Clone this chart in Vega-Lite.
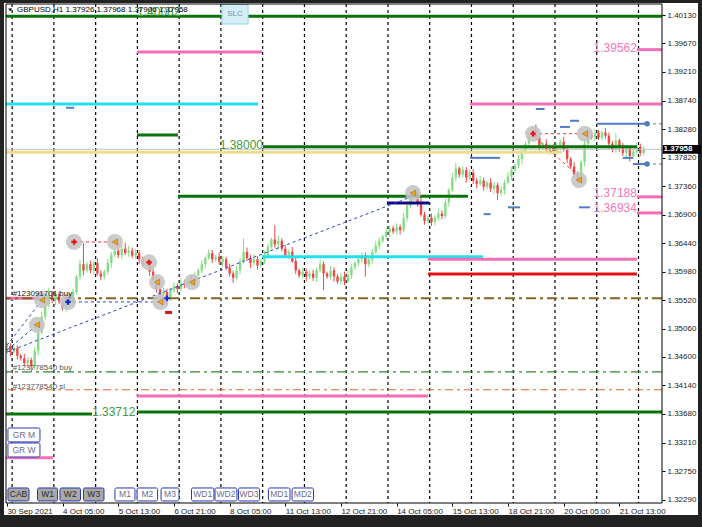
{
"$schema": "https://vega.github.io/schema/vega-lite/v6.json",
"width": 656, "height": 499,
"autosize": {"type": "none"},
"padding": {"left": 6, "top": 4, "right": 40, "bottom": 24},
"background": "#222222",
"config": {"view": {"stroke": null}, "text": {"font": "Liberation Sans"}, "scale": {"continuousPadding": 0}, "axis": {"grid": false, "labelOverlap": false, "labelBound": false, "labelFlush": false}},
"resolve": {"scale": {"color": "independent", "strokeWidth": "independent", "strokeDash": "independent"}},
"datasets": {
"grid": [{"t":3},{"t":27},{"t":51},{"t":75},{"t":99},{"t":123},{"t":147},{"t":171},{"t":195},{"t":219},{"t":243},{"t":267},{"t":291},{"t":315},{"t":339},{"t":363}],
"candles": [
{"t":0,"o":1.3470,"h":1.3484,"l":1.3465,"c":1.3478},
{"t":2,"o":1.3478,"h":1.3482,"l":1.3461,"c":1.3468},
{"t":4,"o":1.3468,"h":1.3482,"l":1.3465,"c":1.3474},
{"t":6,"o":1.3474,"h":1.3479,"l":1.3456,"c":1.3462},
{"t":8,"o":1.3462,"h":1.3465,"l":1.3454,"c":1.3458},
{"t":10,"o":1.3458,"h":1.3465,"l":1.3445,"c":1.3450},
{"t":12,"o":1.3450,"h":1.3460,"l":1.3442,"c":1.3455},
{"t":14,"o":1.3455,"h":1.3459,"l":1.3437,"c":1.3445},
{"t":16,"o":1.3445,"h":1.3476,"l":1.3440,"c":1.3470},
{"t":18,"o":1.3470,"h":1.3504,"l":1.3463,"c":1.3500},
{"t":20,"o":1.3500,"h":1.3533,"l":1.3497,"c":1.3525},
{"t":22,"o":1.3525,"h":1.3550,"l":1.3519,"c":1.3545},
{"t":24,"o":1.3545,"h":1.3572,"l":1.3541,"c":1.3560},
{"t":26,"o":1.3560,"h":1.3567,"l":1.3547,"c":1.3552},
{"t":28,"o":1.3552,"h":1.3567,"l":1.3544,"c":1.3562},
{"t":30,"o":1.3562,"h":1.3566,"l":1.3546,"c":1.3550},
{"t":32,"o":1.3550,"h":1.3556,"l":1.3535,"c":1.3540},
{"t":34,"o":1.3540,"h":1.3559,"l":1.3533,"c":1.3555},
{"t":36,"o":1.3555,"h":1.3563,"l":1.3542,"c":1.3545},
{"t":38,"o":1.3545,"h":1.3570,"l":1.3539,"c":1.3565},
{"t":40,"o":1.3565,"h":1.3593,"l":1.3561,"c":1.3590},
{"t":42,"o":1.3590,"h":1.3617,"l":1.3585,"c":1.3610},
{"t":44,"o":1.3610,"h":1.3644,"l":1.3592,"c":1.3600},
{"t":46,"o":1.3600,"h":1.3614,"l":1.3596,"c":1.3610},
{"t":48,"o":1.3610,"h":1.3616,"l":1.3595,"c":1.3600},
{"t":50,"o":1.3600,"h":1.3616,"l":1.3593,"c":1.3612},
{"t":52,"o":1.3612,"h":1.3620,"l":1.3592,"c":1.3595},
{"t":54,"o":1.3595,"h":1.3600,"l":1.3584,"c":1.3590},
{"t":56,"o":1.3590,"h":1.3601,"l":1.3586,"c":1.3598},
{"t":58,"o":1.3598,"h":1.3619,"l":1.3593,"c":1.3612},
{"t":60,"o":1.3612,"h":1.3630,"l":1.3604,"c":1.3625},
{"t":62,"o":1.3625,"h":1.3636,"l":1.3621,"c":1.3632},
{"t":64,"o":1.3632,"h":1.3644,"l":1.3620,"c":1.3625},
{"t":66,"o":1.3625,"h":1.3641,"l":1.3618,"c":1.3635},
{"t":68,"o":1.3635,"h":1.3645,"l":1.3625,"c":1.3628},
{"t":70,"o":1.3628,"h":1.3640,"l":1.3622,"c":1.3632},
{"t":72,"o":1.3632,"h":1.3637,"l":1.3620,"c":1.3624},
{"t":74,"o":1.3624,"h":1.3635,"l":1.3619,"c":1.3628},
{"t":76,"o":1.3628,"h":1.3633,"l":1.3610,"c":1.3618},
{"t":78,"o":1.3618,"h":1.3622,"l":1.3606,"c":1.3610},
{"t":80,"o":1.3610,"h":1.3618,"l":1.3605,"c":1.3612},
{"t":82,"o":1.3612,"h":1.3616,"l":1.3591,"c":1.3598},
{"t":84,"o":1.3598,"h":1.3606,"l":1.3582,"c":1.3585},
{"t":86,"o":1.3585,"h":1.3590,"l":1.3564,"c":1.3570},
{"t":88,"o":1.3570,"h":1.3573,"l":1.3552,"c":1.3560},
{"t":90,"o":1.3560,"h":1.3572,"l":1.3555,"c":1.3565},
{"t":92,"o":1.3565,"h":1.3570,"l":1.3545,"c":1.3555},
{"t":94,"o":1.3555,"h":1.3572,"l":1.3551,"c":1.3568},
{"t":96,"o":1.3568,"h":1.3581,"l":1.3563,"c":1.3575},
{"t":98,"o":1.3575,"h":1.3579,"l":1.3563,"c":1.3570},
{"t":100,"o":1.3570,"h":1.3588,"l":1.3567,"c":1.3580},
{"t":102,"o":1.3580,"h":1.3585,"l":1.3571,"c":1.3577},
{"t":104,"o":1.3577,"h":1.3588,"l":1.3573,"c":1.3585},
{"t":106,"o":1.3585,"h":1.3592,"l":1.3575,"c":1.3580},
{"t":108,"o":1.3580,"h":1.3597,"l":1.3572,"c":1.3592},
{"t":110,"o":1.3592,"h":1.3604,"l":1.3588,"c":1.3600},
{"t":112,"o":1.3600,"h":1.3616,"l":1.3595,"c":1.3610},
{"t":114,"o":1.3610,"h":1.3624,"l":1.3603,"c":1.3620},
{"t":116,"o":1.3620,"h":1.3634,"l":1.3617,"c":1.3628},
{"t":118,"o":1.3628,"h":1.3633,"l":1.3612,"c":1.3618},
{"t":120,"o":1.3618,"h":1.3625,"l":1.3614,"c":1.3622},
{"t":122,"o":1.3622,"h":1.3629,"l":1.3609,"c":1.3614},
{"t":124,"o":1.3614,"h":1.3623,"l":1.3606,"c":1.3618},
{"t":126,"o":1.3618,"h":1.3622,"l":1.3601,"c":1.3605},
{"t":128,"o":1.3605,"h":1.3611,"l":1.3590,"c":1.3595},
{"t":130,"o":1.3595,"h":1.3599,"l":1.3580,"c":1.3588},
{"t":132,"o":1.3588,"h":1.3608,"l":1.3585,"c":1.3600},
{"t":134,"o":1.3600,"h":1.3620,"l":1.3594,"c":1.3615},
{"t":136,"o":1.3615,"h":1.3652,"l":1.3611,"c":1.3630},
{"t":138,"o":1.3630,"h":1.3637,"l":1.3615,"c":1.3620},
{"t":140,"o":1.3620,"h":1.3625,"l":1.3604,"c":1.3612},
{"t":142,"o":1.3612,"h":1.3626,"l":1.3608,"c":1.3618},
{"t":144,"o":1.3618,"h":1.3623,"l":1.3601,"c":1.3608},
{"t":146,"o":1.3608,"h":1.3619,"l":1.3605,"c":1.3615},
{"t":148,"o":1.3615,"h":1.3632,"l":1.3610,"c":1.3625},
{"t":150,"o":1.3625,"h":1.3643,"l":1.3620,"c":1.3638},
{"t":152,"o":1.3638,"h":1.3653,"l":1.3634,"c":1.3650},
{"t":154,"o":1.3650,"h":1.3673,"l":1.3637,"c":1.3642},
{"t":156,"o":1.3642,"h":1.3656,"l":1.3634,"c":1.3648},
{"t":158,"o":1.3648,"h":1.3652,"l":1.3631,"c":1.3635},
{"t":160,"o":1.3635,"h":1.3641,"l":1.3620,"c":1.3625},
{"t":162,"o":1.3625,"h":1.3634,"l":1.3618,"c":1.3630},
{"t":164,"o":1.3630,"h":1.3638,"l":1.3612,"c":1.3615},
{"t":166,"o":1.3615,"h":1.3620,"l":1.3594,"c":1.3600},
{"t":168,"o":1.3600,"h":1.3603,"l":1.3588,"c":1.3592},
{"t":170,"o":1.3592,"h":1.3605,"l":1.3587,"c":1.3598},
{"t":172,"o":1.3598,"h":1.3603,"l":1.3582,"c":1.3590},
{"t":174,"o":1.3590,"h":1.3599,"l":1.3586,"c":1.3595},
{"t":176,"o":1.3595,"h":1.3601,"l":1.3583,"c":1.3588},
{"t":178,"o":1.3588,"h":1.3604,"l":1.3581,"c":1.3600},
{"t":180,"o":1.3600,"h":1.3618,"l":1.3597,"c":1.3610},
{"t":182,"o":1.3610,"h":1.3615,"l":1.3568,"c":1.3595},
{"t":184,"o":1.3595,"h":1.3598,"l":1.3586,"c":1.3590},
{"t":186,"o":1.3590,"h":1.3607,"l":1.3585,"c":1.3600},
{"t":188,"o":1.3600,"h":1.3605,"l":1.3582,"c":1.3590},
{"t":190,"o":1.3590,"h":1.3594,"l":1.3578,"c":1.3582},
{"t":192,"o":1.3582,"h":1.3596,"l":1.3577,"c":1.3590},
{"t":194,"o":1.3590,"h":1.3598,"l":1.3576,"c":1.3583},
{"t":196,"o":1.3583,"h":1.3600,"l":1.3580,"c":1.3592},
{"t":198,"o":1.3592,"h":1.3610,"l":1.3586,"c":1.3605},
{"t":200,"o":1.3605,"h":1.3615,"l":1.3601,"c":1.3612},
{"t":202,"o":1.3612,"h":1.3625,"l":1.3607,"c":1.3618},
{"t":204,"o":1.3618,"h":1.3630,"l":1.3613,"c":1.3625},
{"t":206,"o":1.3625,"h":1.3629,"l":1.3590,"c":1.3610},
{"t":208,"o":1.3610,"h":1.3624,"l":1.3605,"c":1.3618},
{"t":210,"o":1.3618,"h":1.3634,"l":1.3611,"c":1.3630},
{"t":212,"o":1.3630,"h":1.3648,"l":1.3627,"c":1.3640},
{"t":214,"o":1.3640,"h":1.3653,"l":1.3634,"c":1.3648},
{"t":216,"o":1.3648,"h":1.3658,"l":1.3644,"c":1.3655},
{"t":218,"o":1.3655,"h":1.3669,"l":1.3650,"c":1.3662},
{"t":220,"o":1.3662,"h":1.3673,"l":1.3654,"c":1.3668},
{"t":222,"o":1.3668,"h":1.3672,"l":1.3659,"c":1.3663},
{"t":224,"o":1.3663,"h":1.3676,"l":1.3658,"c":1.3670},
{"t":226,"o":1.3670,"h":1.3674,"l":1.3658,"c":1.3665},
{"t":228,"o":1.3665,"h":1.3693,"l":1.3662,"c":1.3685},
{"t":230,"o":1.3685,"h":1.3710,"l":1.3679,"c":1.3705},
{"t":232,"o":1.3705,"h":1.3723,"l":1.3701,"c":1.3720},
{"t":234,"o":1.3720,"h":1.3737,"l":1.3715,"c":1.3728},
{"t":236,"o":1.3728,"h":1.3732,"l":1.3703,"c":1.3710},
{"t":238,"o":1.3710,"h":1.3718,"l":1.3687,"c":1.3690},
{"t":240,"o":1.3690,"h":1.3695,"l":1.3674,"c":1.3680},
{"t":242,"o":1.3680,"h":1.3688,"l":1.3676,"c":1.3685},
{"t":244,"o":1.3685,"h":1.3692,"l":1.3672,"c":1.3678},
{"t":246,"o":1.3678,"h":1.3690,"l":1.3673,"c":1.3685},
{"t":248,"o":1.3685,"h":1.3700,"l":1.3681,"c":1.3692},
{"t":250,"o":1.3692,"h":1.3697,"l":1.3683,"c":1.3688},
{"t":252,"o":1.3688,"h":1.3716,"l":1.3684,"c":1.3710},
{"t":254,"o":1.3710,"h":1.3734,"l":1.3703,"c":1.3730},
{"t":256,"o":1.3730,"h":1.3758,"l":1.3727,"c":1.3750},
{"t":258,"o":1.3750,"h":1.3774,"l":1.3744,"c":1.3765},
{"t":260,"o":1.3765,"h":1.3768,"l":1.3750,"c":1.3755},
{"t":262,"o":1.3755,"h":1.3769,"l":1.3750,"c":1.3762},
{"t":264,"o":1.3762,"h":1.3767,"l":1.3742,"c":1.3750},
{"t":266,"o":1.3750,"h":1.3762,"l":1.3746,"c":1.3758},
{"t":268,"o":1.3758,"h":1.3764,"l":1.3740,"c":1.3745},
{"t":270,"o":1.3745,"h":1.3749,"l":1.3733,"c":1.3740},
{"t":272,"o":1.3740,"h":1.3753,"l":1.3737,"c":1.3745},
{"t":274,"o":1.3745,"h":1.3750,"l":1.3729,"c":1.3735},
{"t":276,"o":1.3735,"h":1.3745,"l":1.3731,"c":1.3742},
{"t":278,"o":1.3742,"h":1.3749,"l":1.3727,"c":1.3732},
{"t":280,"o":1.3732,"h":1.3743,"l":1.3724,"c":1.3738},
{"t":282,"o":1.3738,"h":1.3742,"l":1.3714,"c":1.3725},
{"t":284,"o":1.3725,"h":1.3736,"l":1.3720,"c":1.3730},
{"t":286,"o":1.3730,"h":1.3746,"l":1.3723,"c":1.3742},
{"t":288,"o":1.3742,"h":1.3760,"l":1.3739,"c":1.3752},
{"t":290,"o":1.3752,"h":1.3767,"l":1.3746,"c":1.3762},
{"t":292,"o":1.3762,"h":1.3773,"l":1.3758,"c":1.3770},
{"t":294,"o":1.3770,"h":1.3787,"l":1.3765,"c":1.3780},
{"t":296,"o":1.3780,"h":1.3797,"l":1.3772,"c":1.3792},
{"t":298,"o":1.3792,"h":1.3809,"l":1.3788,"c":1.3805},
{"t":300,"o":1.3805,"h":1.3824,"l":1.3800,"c":1.3818},
{"t":302,"o":1.3818,"h":1.3833,"l":1.3811,"c":1.3828},
{"t":304,"o":1.3828,"h":1.3836,"l":1.3812,"c":1.3815},
{"t":306,"o":1.3815,"h":1.3820,"l":1.3794,"c":1.3800},
{"t":308,"o":1.3800,"h":1.3808,"l":1.3796,"c":1.3805},
{"t":310,"o":1.3805,"h":1.3812,"l":1.3790,"c":1.3795},
{"t":312,"o":1.3795,"h":1.3805,"l":1.3787,"c":1.3800},
{"t":314,"o":1.3800,"h":1.3804,"l":1.3788,"c":1.3792},
{"t":316,"o":1.3792,"h":1.3806,"l":1.3787,"c":1.3800},
{"t":318,"o":1.3800,"h":1.3812,"l":1.3793,"c":1.3808},
{"t":320,"o":1.3808,"h":1.3816,"l":1.3792,"c":1.3795},
{"t":322,"o":1.3795,"h":1.3800,"l":1.3774,"c":1.3780},
{"t":324,"o":1.3780,"h":1.3783,"l":1.3764,"c":1.3768},
{"t":326,"o":1.3768,"h":1.3775,"l":1.3750,"c":1.3755},
{"t":328,"o":1.3755,"h":1.3760,"l":1.3740,"c":1.3745},
{"t":330,"o":1.3745,"h":1.3779,"l":1.3742,"c":1.3775},
{"t":332,"o":1.3775,"h":1.3813,"l":1.3769,"c":1.3805},
{"t":334,"o":1.3805,"h":1.3832,"l":1.3800,"c":1.3820},
{"t":336,"o":1.3820,"h":1.3826,"l":1.3812,"c":1.3815},
{"t":338,"o":1.3815,"h":1.3829,"l":1.3809,"c":1.3822},
{"t":340,"o":1.3822,"h":1.3827,"l":1.3811,"c":1.3815},
{"t":342,"o":1.3815,"h":1.3826,"l":1.3810,"c":1.3823},
{"t":344,"o":1.3823,"h":1.3830,"l":1.3813,"c":1.3818},
{"t":346,"o":1.3818,"h":1.3823,"l":1.3797,"c":1.3805},
{"t":348,"o":1.3805,"h":1.3809,"l":1.3791,"c":1.3795},
{"t":350,"o":1.3795,"h":1.3822,"l":1.3790,"c":1.3810},
{"t":352,"o":1.3810,"h":1.3813,"l":1.3792,"c":1.3798},
{"t":354,"o":1.3798,"h":1.3806,"l":1.3785,"c":1.3790},
{"t":356,"o":1.3790,"h":1.3803,"l":1.3782,"c":1.3798},
{"t":358,"o":1.3798,"h":1.3802,"l":1.3776,"c":1.3785},
{"t":360,"o":1.3785,"h":1.3797,"l":1.3780,"c":1.3792},
{"t":362,"o":1.3792,"h":1.3807,"l":1.3787,"c":1.3800},
{"t":364,"o":1.3800,"h":1.3805,"l":1.3785,"c":1.3790},
{"t":366,"o":1.3790,"h":1.3801,"l":1.3786,"c":1.3796}
],
"hlines": [
{"kind":"bid","x1":-0.52,"x2":376.5,"p":1.37958},
{"kind":"ye","x1":-0.52,"x2":319,"p":1.3791},
{"kind":"cy","x1":-0.52,"x2":144.3,"p":1.3869},
{"kind":"cy","x1":146.6,"x2":273.6,"p":1.3622},
{"kind":"g","x1":-0.52,"x2":376.5,"p":1.4011},
{"kind":"g","x1":74.8,"x2":98.3,"p":1.3819},
{"kind":"g","x1":147.2,"x2":362.1,"p":1.3800},
{"kind":"g","x1":98.3,"x2":265,"p":1.3720},
{"kind":"g","x1":-0.52,"x2":48.9,"p":1.3368},
{"kind":"g","x1":74.8,"x2":376.5,"p":1.3371},
{"kind":"pk","x1":74.8,"x2":146.6,"p":1.3953},
{"kind":"pk","x1":362.1,"x2":376.5,"p":1.3957},
{"kind":"pk","x1":266.2,"x2":376.5,"p":1.3869},
{"kind":"pk","x1":362.1,"x2":376.5,"p":1.3719},
{"kind":"pk","x1":362.1,"x2":376.5,"p":1.3693},
{"kind":"pk","x1":242,"x2":362.1,"p":1.3618},
{"kind":"pk","x1":-0.52,"x2":19,"p":1.3555},
{"kind":"pk","x1":74.8,"x2":242,"p":1.3397},
{"kind":"pk","x1":-0.52,"x2":26.5,"p":1.3297},
{"kind":"nv","x1":218.4,"x2":242.6,"p":1.3709},
{"kind":"rd","x1":242,"x2":362.1,"p":1.3594},
{"kind":"rd","x1":90.9,"x2":94.9,"p":1.3532},
{"kind":"sb","x1":34,"x2":38.6,"p":1.3863},
{"kind":"sb","x1":266.2,"x2":283.4,"p":1.3782},
{"kind":"sb","x1":288,"x2":294.9,"p":1.3702},
{"kind":"sb","x1":274,"x2":278,"p":1.3691},
{"kind":"sb","x1":304,"x2":309,"p":1.3861},
{"kind":"sb","x1":317.9,"x2":323.6,"p":1.3832},
{"kind":"sb","x1":323.6,"x2":328.8,"p":1.3842},
{"kind":"sb","x1":328.8,"x2":335.1,"p":1.3702},
{"kind":"sb","x1":339.1,"x2":367.9,"p":1.3837},
{"kind":"sb","x1":354,"x2":359.8,"p":1.3782},
{"kind":"sb","x1":359.8,"x2":367.9,"p":1.3772}
],
"dashdot": [
{"kind":"od","p":1.3555},
{"kind":"gd","p":1.3436},
{"kind":"or","p":1.3407}
],
"segs": [
{"kind":"bl","x1":0.06,"y1":1.3468,"x2":233.4,"y2":1.3720},
{"kind":"bl","x1":0.06,"y1":1.3471,"x2":17.3,"y2":1.3512},
{"kind":"bl","x1":0.06,"y1":1.3479,"x2":20.2,"y2":1.3552},
{"kind":"bl","x1":34.5,"y1":1.3549,"x2":92,"y2":1.3549},
{"kind":"rd","x1":38.6,"y1":1.3646,"x2":62.1,"y2":1.3646},
{"kind":"rd","x1":302.4,"y1":1.3821,"x2":332.2,"y2":1.3821},
{"kind":"rd","x1":304,"y1":1.3814,"x2":328,"y2":1.3754},
{"kind":"sb","x1":367.9,"y1":1.3837,"x2":376.5,"y2":1.3837},
{"kind":"sb","x1":367.9,"y1":1.3772,"x2":376.5,"y2":1.3772}
],
"circles": [
{"t":17.3,"p":1.3512},{"t":20.2,"p":1.3552},{"t":35.1,"p":1.3549},{"t":38.6,"p":1.3646},{"t":62.1,"p":1.3646},{"t":81.7,"p":1.3613},{"t":86.3,"p":1.3581},{"t":88.2,"p":1.3549},{"t":106.4,"p":1.3581},{"t":233.4,"p":1.3725},{"t":302.4,"p":1.3821},{"t":332.2,"p":1.3821},{"t":328.8,"p":1.3746}
],
"tris": [
{"t":17.3,"p":1.3512},{"t":20.2,"p":1.3552},{"t":62.1,"p":1.3646},{"t":86.3,"p":1.3581},{"t":88.2,"p":1.3549},{"t":106.4,"p":1.3581},{"t":233.4,"p":1.3725},{"t":332.2,"p":1.3821},{"t":328.8,"p":1.3746}
],
"stars": [
{"kind":"r","t":38.6,"p":1.3646},{"kind":"r","t":81.7,"p":1.3613},{"kind":"r","t":302.4,"p":1.3821},{"kind":"b","t":35.1,"p":1.3549},{"kind":"b","t":92,"p":1.3555}
],
"dots": [{"t":367.9,"p":1.3837},{"t":367.9,"p":1.3772}],
"bigL": [
{"kind":"g","t":74.8,"p":1.40179,"txt":"1.40082"},
{"kind":"g","t":48.9,"p":1.33711,"txt":"1.33712"}
],
"bigR": [
{"kind":"pk","t":362.1,"p":1.39597,"txt":"1.39562"},
{"kind":"g","t":147.2,"p":1.38028,"txt":"1.38000"},
{"kind":"pk","t":362.1,"p":1.37252,"txt":"1.37188"},
{"kind":"pk","t":362.1,"p":1.3701,"txt":"1.36934"}
],
"orders": [
{"kind":"a","t":3.3,"p":1.35619,"txt":"#123091701 buy"},
{"kind":"b","t":3.3,"p":1.34423,"txt":"#123778540 buy"},
{"kind":"b","t":3.3,"p":1.34115,"txt":"#123778540 sl"}
],
"title": [{"t":5.8,"p":1.40211,"txt":"GBPUSD,H1  1.37926 1.37968 1.37906 1.37958"}],
"titlemark": [{"t":1.9,"p":1.40211}],
"slc": [{"x1":123.6,"x2":138.6,"p1":1.403,"p2":1.39985,"xm":131.1,"pm":1.40145,"txt":"SLC"}],
"buttons": [
{"name":"CAB","st":"on","x1":0.6,"x2":12.7,"xm":6.65,"p1":1.32482,"p2":1.32272,"pm":1.32377},
{"name":"W1","st":"on","x1":17.6,"x2":29.1,"xm":23.35,"p1":1.32482,"p2":1.32272,"pm":1.32377},
{"name":"W2","st":"on","x1":30.5,"x2":42.3,"xm":36.4,"p1":1.32482,"p2":1.32272,"pm":1.32377},
{"name":"W3","st":"on","x1":44,"x2":55.8,"xm":49.9,"p1":1.32482,"p2":1.32272,"pm":1.32377},
{"name":"M1","st":"off","x1":62.1,"x2":73.6,"xm":67.85,"p1":1.32482,"p2":1.32272,"pm":1.32377},
{"name":"M2","st":"off","x1":74.8,"x2":86.6,"xm":80.7,"p1":1.32482,"p2":1.32272,"pm":1.32377},
{"name":"M3","st":"off","x1":88.6,"x2":98.9,"xm":93.75,"p1":1.32482,"p2":1.32272,"pm":1.32377},
{"name":"WD1","st":"off","x1":106.1,"x2":119,"xm":112.55,"p1":1.32482,"p2":1.32272,"pm":1.32377},
{"name":"WD2","st":"off","x1":119.6,"x2":132.2,"xm":125.9,"p1":1.32482,"p2":1.32272,"pm":1.32377},
{"name":"WD3","st":"off","x1":133.1,"x2":145.2,"xm":139.15,"p1":1.32482,"p2":1.32272,"pm":1.32377},
{"name":"MD1","st":"off","x1":150.3,"x2":162.7,"xm":156.5,"p1":1.32482,"p2":1.32272,"pm":1.32377},
{"name":"MD2","st":"off","x1":163.9,"x2":176.2,"xm":170.05,"p1":1.32482,"p2":1.32272,"pm":1.32377},
{"name":"GR M","st":"off","x1":0.6,"x2":19,"xm":9.8,"p1":1.33452,"p2":1.33226,"pm":1.33339},
{"name":"GR W","st":"off","x1":0.6,"x2":19,"xm":9.8,"p1":1.3321,"p2":1.32983,"pm":1.33097}
],
"tag": [{"x1":376.9,"x2":399,"p1":1.3803,"p2":1.37886,"t":377.4,"p":1.37958,"txt":"1.37958"}],
"ticksx": [{"t":0,"p":1.33}]
},
"layer": [
{"data": {"values": [{}]},
 "mark": {"type": "rect", "fill": "#ffffff"},
 "encoding": {
  "x": {"datum": -1.67, "type": "quantitative", "scale": {"domain": [-0.52, 376.5], "nice": false, "zero": false, "padding": 0}},
  "x2": {"datum": 397.2},
  "y": {"datum": 1.40325, "type": "quantitative", "scale": {"domain": [1.32239, 1.40308], "nice": false, "zero": false, "padding": 0}},
  "y2": {"datum": 1.32045}
 }},
{"data": {"name": "ticksx"},
 "mark": {"type": "point", "opacity": 0, "size": 1},
 "encoding": {
  "x": {"field": "t", "type": "quantitative", "scale": {"domain": [-0.52, 376.5], "nice": false, "zero": false, "padding": 0},
   "axis": {"orient": "bottom", "title": null, "values": [0,32,64,96,128,160,192,224,256,288,320,352], "tickCount": 30,
    "labelExpr": "['30 Sep 2021','4 Oct 05:00','5 Oct 13:00','6 Oct 21:00','8 Oct 05:00','11 Oct 13:00','12 Oct 21:00','14 Oct 05:00','15 Oct 13:00','18 Oct 21:00','20 Oct 05:00','21 Oct 13:00'][round(datum.value/32)]",
    "grid": false, "domain": false, "ticks": true, "tickSize": 3, "tickColor": "#000000",
    "labelAlign": "left", "labelBaseline": "top", "labelPadding": 1, "labelFont": "Liberation Sans", "labelFontSize": 8,
    "labelColor": "#1a1a1a", "labelOverlap": false, "labelBound": false, "labelFlush": false, "zindex": 1}},
  "y": {"field": "p", "type": "quantitative", "scale": {"domain": [1.32239, 1.40308], "nice": false, "zero": false, "padding": 0},
   "axis": {"orient": "right", "title": null, "tickCount": 30,
    "values": [1.4013,1.3967,1.3921,1.3874,1.3828,1.3782,1.3736,1.369,1.3644,1.3598,1.3552,1.3506,1.346,1.3414,1.3368,1.3321,1.3275,1.3229],
    "format": ".5f", "grid": false, "domain": false, "tickSize": 3, "tickColor": "#000000", "labelPadding": 2,
    "labelFont": "Liberation Sans", "labelFontSize": 8, "labelColor": "#1a1a1a", "labelOverlap": false, "labelBound": false, "labelFlush": false, "zindex": 1}}
 }},
{"data": {"name": "grid"},
 "mark": {"type": "rule", "color": "#000000", "strokeWidth": 1.2, "strokeDash": [3, 3]},
 "encoding": {"x": {"field": "t", "type": "quantitative"}}},
{"data": {"name": "candles"},
 "mark": {"type": "rule", "strokeWidth": 1},
 "encoding": {
  "x": {"field": "t", "type": "quantitative"},
  "y": {"field": "l", "type": "quantitative"},
  "y2": {"field": "h"},
  "color": {"condition": {"test": "datum.c >= datum.o", "value": "#84dc84"}, "value": "#ee4646"}}},
{"data": {"name": "candles"},
 "mark": {"type": "bar", "size": 2.4},
 "encoding": {
  "x": {"field": "t", "type": "quantitative"},
  "y": {"field": "o", "type": "quantitative"},
  "y2": {"field": "c"},
  "color": {"condition": {"test": "datum.c >= datum.o", "value": "#84dc84"}, "value": "#ee4646"}}},
{"data": {"name": "hlines"},
 "mark": {"type": "rule"},
 "encoding": {
  "x": {"field": "x1", "type": "quantitative"},
  "x2": {"field": "x2"},
  "y": {"field": "p", "type": "quantitative"},
  "color": {"field": "kind", "type": "nominal", "legend": null,
   "scale": {"domain": ["bid","ye","cy","g","pk","nv","rd","sb"], "range": ["#c4c4c4","#efdc8c","#1fe2ee","#0a720a","#f26fb6","#0c0c80","#e21212","#4f7cc2"]}},
  "strokeWidth": {"field": "kind", "type": "nominal", "legend": null,
   "scale": {"type": "ordinal", "domain": ["bid","ye","cy","g","pk","nv","rd","sb"], "range": [1,3,3,3,3,3,3,2]}}}},
{"data": {"name": "dashdot"},
 "mark": {"type": "rule"},
 "encoding": {
  "y": {"field": "p", "type": "quantitative"},
  "color": {"field": "kind", "type": "nominal", "legend": null, "scale": {"domain": ["od","gd","or"], "range": ["#84661c","#2f8a2f","#e3652e"]}},
  "strokeWidth": {"field": "kind", "type": "nominal", "legend": null, "scale": {"type": "ordinal", "domain": ["od","gd","or"], "range": [2,1.2,1.2]}},
  "strokeDash": {"field": "kind", "type": "nominal", "legend": null, "scale": {"domain": ["od","gd","or"], "range": [[10,4,3,4],[10,4,3,4],[8,4,3,4]]}}}},
{"data": {"name": "segs"},
 "mark": {"type": "rule", "strokeWidth": 1, "strokeDash": [3, 3]},
 "encoding": {
  "x": {"field": "x1", "type": "quantitative"},
  "x2": {"field": "x2"},
  "y": {"field": "y1", "type": "quantitative"},
  "y2": {"field": "y2"},
  "color": {"field": "kind", "type": "nominal", "legend": null, "scale": {"domain": ["bl","rd","sb"], "range": ["#2b3fd0","#e83030","#4f7cc2"]}}}},
{"data": {"name": "circles"},
 "mark": {"type": "point", "shape": "circle", "filled": true, "color": "#c4c4c4", "opacity": 0.88, "size": 260},
 "encoding": {
  "x": {"field": "t", "type": "quantitative"},
  "y": {"field": "p", "type": "quantitative"}}},
{"data": {"name": "tris"},
 "mark": {"type": "point", "shape": "triangle-left", "filled": true, "color": "#f0a52a", "stroke": "#a86a10", "strokeWidth": 0.6, "opacity": 1, "size": 36},
 "encoding": {
  "x": {"field": "t", "type": "quantitative"},
  "y": {"field": "p", "type": "quantitative"}}},
{"data": {"name": "stars"},
 "mark": {"type": "point", "shape": "cross", "filled": true, "opacity": 1, "size": 30},
 "encoding": {
  "x": {"field": "t", "type": "quantitative"},
  "y": {"field": "p", "type": "quantitative"},
  "color": {"field": "kind", "type": "nominal", "legend": null, "scale": {"domain": ["r","b"], "range": ["#ee1414","#1426e6"]}}}},
{"data": {"name": "dots"},
 "mark": {"type": "point", "shape": "circle", "filled": true, "color": "#4f7cc2", "opacity": 1, "size": 30},
 "encoding": {
  "x": {"field": "t", "type": "quantitative"},
  "y": {"field": "p", "type": "quantitative"}}},
{"data": {"name": "bigL"},
 "mark": {"type": "text", "align": "left", "baseline": "middle", "fontSize": 12, "font": "Liberation Sans"},
 "encoding": {
  "x": {"field": "t", "type": "quantitative"},
  "y": {"field": "p", "type": "quantitative"},
  "text": {"field": "txt"},
  "color": {"field": "kind", "type": "nominal", "legend": null, "scale": {"domain": ["g","pk"], "range": ["#3f9b3f","#f27abd"]}}}},
{"data": {"name": "bigR"},
 "mark": {"type": "text", "align": "right", "baseline": "middle", "fontSize": 12, "font": "Liberation Sans"},
 "encoding": {
  "x": {"field": "t", "type": "quantitative"},
  "y": {"field": "p", "type": "quantitative"},
  "text": {"field": "txt"},
  "color": {"field": "kind", "type": "nominal", "legend": null, "scale": {"domain": ["g","pk"], "range": ["#3f9b3f","#f27abd"]}}}},
{"data": {"name": "orders"},
 "mark": {"type": "text", "align": "left", "baseline": "middle", "fontSize": 8, "font": "Liberation Sans"},
 "encoding": {
  "x": {"field": "t", "type": "quantitative"},
  "y": {"field": "p", "type": "quantitative"},
  "text": {"field": "txt"},
  "color": {"field": "kind", "type": "nominal", "legend": null, "scale": {"domain": ["a","b"], "range": ["#151515","#555555"]}}}},
{"data": {"name": "title"},
 "mark": {"type": "text", "align": "left", "baseline": "middle", "fontSize": 8, "font": "Liberation Sans", "color": "#000000"},
 "encoding": {
  "x": {"field": "t", "type": "quantitative"},
  "y": {"field": "p", "type": "quantitative"},
  "text": {"field": "txt"}}},
{"data": {"name": "titlemark"},
 "mark": {"type": "point", "shape": "triangle-down", "filled": true, "color": "#000000", "opacity": 1, "size": 14},
 "encoding": {
  "x": {"field": "t", "type": "quantitative"},
  "y": {"field": "p", "type": "quantitative"}}},
{"data": {"name": "slc"},
 "mark": {"type": "rect", "fill": "#d6eff7", "stroke": "#93d2e4", "strokeWidth": 1},
 "encoding": {
  "x": {"field": "x1", "type": "quantitative"},
  "x2": {"field": "x2"},
  "y": {"field": "p1", "type": "quantitative"},
  "y2": {"field": "p2"}}},
{"data": {"name": "slc"},
 "mark": {"type": "text", "align": "center", "baseline": "middle", "fontSize": 8, "font": "Liberation Sans", "color": "#7a8c96"},
 "encoding": {
  "x": {"field": "xm", "type": "quantitative"},
  "y": {"field": "pm", "type": "quantitative"},
  "text": {"field": "txt"}}},
{"data": {"name": "buttons"},
 "mark": {"type": "rect", "stroke": "#2936b0", "strokeWidth": 1, "cornerRadius": 1.5},
 "encoding": {
  "x": {"field": "x1", "type": "quantitative"},
  "x2": {"field": "x2"},
  "y": {"field": "p1", "type": "quantitative"},
  "y2": {"field": "p2"},
  "color": {"field": "st", "type": "nominal", "legend": null, "scale": {"domain": ["on","off"], "range": ["#a9a9a9","#ffffff"]}}}},
{"data": {"name": "buttons"},
 "mark": {"type": "text", "align": "center", "baseline": "middle", "fontSize": 8.5, "font": "Liberation Sans"},
 "encoding": {
  "x": {"field": "xm", "type": "quantitative"},
  "y": {"field": "pm", "type": "quantitative"},
  "text": {"field": "name"},
  "color": {"field": "st", "type": "nominal", "legend": null, "scale": {"domain": ["on","off"], "range": ["#2a2a2a","#6c6c8c"]}}}},
{"data": {"name": "tag"},
 "mark": {"type": "rect", "fill": "#000000"},
 "encoding": {
  "x": {"field": "x1", "type": "quantitative"},
  "x2": {"field": "x2"},
  "y": {"field": "p1", "type": "quantitative"},
  "y2": {"field": "p2"}}},
{"data": {"name": "tag"},
 "mark": {"type": "text", "align": "left", "baseline": "middle", "fontSize": 8, "font": "Liberation Sans", "fontWeight": "bold", "color": "#ffffff"},
 "encoding": {
  "x": {"field": "t", "type": "quantitative"},
  "y": {"field": "p", "type": "quantitative"},
  "text": {"field": "txt"}}},
{"data": {"values": [{}]},
 "mark": {"type": "rect", "filled": false, "color": "#000000", "strokeWidth": 1},
 "encoding": {
  "x": {"datum": -0.52, "type": "quantitative"},
  "x2": {"datum": 376.5},
  "y": {"datum": 1.40308, "type": "quantitative"},
  "y2": {"datum": 1.32239}}}
]
}
